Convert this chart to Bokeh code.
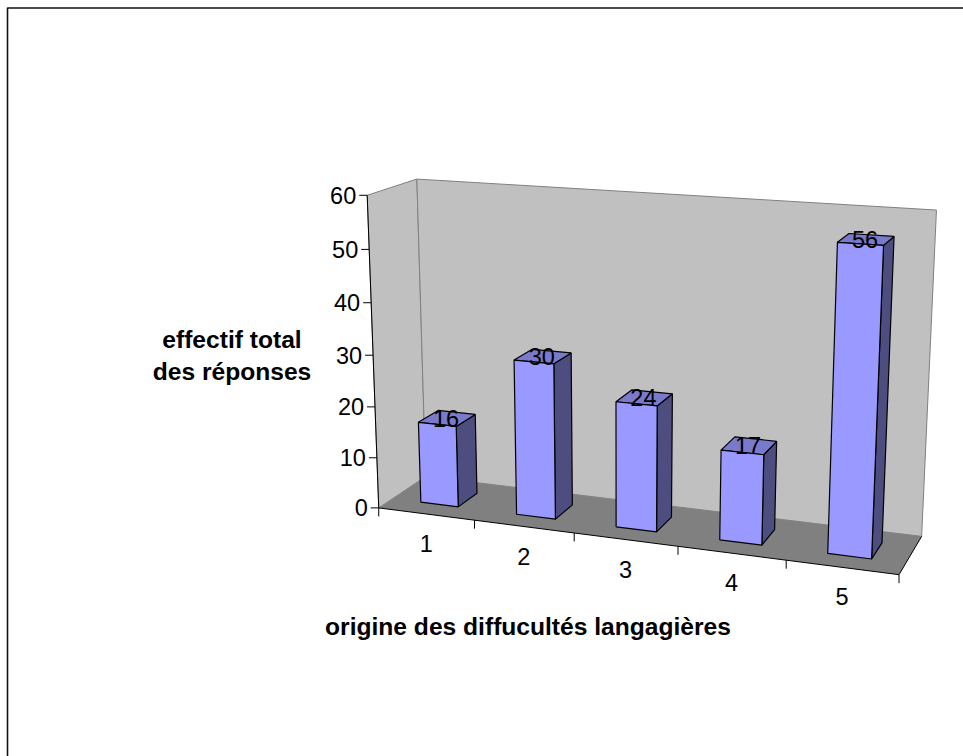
import numpy as np
from bokeh.core.properties import value
from bokeh.embed import file_html
from bokeh.models import Range1d
from bokeh.plotting import figure
from bokeh.resources import INLINE

# Chart content
categories = ["1", "2", "3", "4", "5"]
responses = [16, 30, 24, 17, 56]
value_ticks = [0, 10, 20, 30, 40, 50, 60]
x_title = "origine des diffucultés langagières"
y_title = ["effectif total", "des réponses"]

VALUE_MAX = 60
BAR_SHARE = 0.395
DEPTH_FRONT, DEPTH_BACK = 0.285, 0.71

WALL = "#C0C0C0"
FLOOR = "#808080"
BAR_FRONT = "#9999FF"
BAR_TOP = "#7A7ACC"
BAR_SIDE = "#4D4D80"
FONT = value("Liberation Sans")
LABEL_SIZE = "23.5px"
TITLE_SIZE = "24.6px"

# Camera calibration: unit-box coordinates (along, height, depth) -> page pixels
_box = [
    ((0, 0, 0), (378.5, 507.5)), ((0, 1, 0), (366.7, 194)), ((0, 0, 1), (425, 476)),
    ((0, 1, 1), (416, 179)), ((1, 0, 0), (898.3, 574)), ((1, 0, 1), (921.7, 535)),
    ((1, 1, 1), (936, 210)), ((.2, 0, 0), (474, 519.7)), ((.4, 0, 0), (573.3, 533)),
    ((.6, 0, 0), (676.7, 546)), ((.8, 0, 0), (786, 560)),
    ((0, 1 / 6, 0), (376.7, 457.3)), ((0, 1 / 3, 0), (374.7, 406)), ((0, .5, 0), (372.7, 355)),
    ((0, 2 / 3, 0), (370.8, 302.3)), ((0, 5 / 6, 0), (368.8, 248.7)),
]
_rows = []
for (a, b, c), (sx, sy) in _box:
    _rows.append([a, b, c, 1, 0, 0, 0, 0, -sx * a, -sx * b, -sx * c, -sx])
    _rows.append([0, 0, 0, 0, a, b, c, 1, -sy * a, -sy * b, -sy * c, -sy])
CAMERA = np.linalg.svd(np.array(_rows, float))[2][-1].reshape(3, 4)


def project(along, height, depth):
    h = CAMERA @ np.array([along, height, depth, 1.0])
    return h[0] / h[2], h[1] / h[2]


def quad(*corners):
    pts = [project(*c) for c in corners]
    return [q[0] for q in pts], [q[1] for q in pts]


p = figure(width=963, height=756, output_backend="svg", toolbar_location=None,
           x_range=Range1d(0, 963), y_range=Range1d(756, 0), min_border=0,
           outline_line_color=None, background_fill_color="white", border_fill_color="white")
p.axis.visible = False
p.grid.visible = False

# Chart-area frame: its right and bottom edges lie past the page limit
p.line([7, 7, 963], [756, 7.5, 7.5], line_color="#111111", line_width=1.6)

# Walls and floor
xs, ys = quad((0, 0, 0), (0, 1, 0), (0, 1, 1), (0, 0, 1))
p.patch(xs, ys, fill_color=WALL, line_color=FLOOR, line_width=1)
xs, ys = quad((0, 0, 1), (0, 1, 1), (1, 1, 1), (1, 0, 1))
p.patch(xs, ys, fill_color=WALL, line_color=FLOOR, line_width=1)
xs, ys = quad((0, 0, 0), (0, 0, 1), (1, 0, 1), (1, 0, 0))
p.patch(xs, ys, fill_color=FLOOR, line_color=None)

# Axis lines and tick marks
xs, ys = quad((0, 1, 0), (0, 0, 0), (1, 0, 0), (1, 0, 1))
p.line(xs, ys, line_color="black", line_width=1)
for tick in value_ticks:
    x0, y0 = project(0, tick / VALUE_MAX, 0)
    p.line([x0 - 8, x0], [y0, y0], line_color="black", line_width=1)
    p.text([x0 - 11], [y0], text=[str(tick)], text_font=FONT, text_font_size=LABEL_SIZE,
           text_align="right", text_baseline="middle", text_color="black")
n = len(categories)
for i in range(n + 1):
    x0, y0 = project(i / n, 0, 0)
    p.line([x0, x0], [y0, y0 + 8.5], line_color="black", line_width=1)

# Bars, drawn back to front for each face
for i, v in enumerate(responses):
    pad = (1 - BAR_SHARE) / 2
    u0, u1 = (i + pad) / n, (i + 1 - pad) / n
    h = v / VALUE_MAX
    d0, d1 = DEPTH_FRONT, DEPTH_BACK
    faces = [
        (BAR_SIDE, ((u1, 0, d0), (u1, h, d0), (u1, h, d1), (u1, 0, d1))),
        (BAR_TOP, ((u0, h, d0), (u0, h, d1), (u1, h, d1), (u1, h, d0))),
        (BAR_FRONT, ((u0, 0, d0), (u0, h, d0), (u1, h, d0), (u1, 0, d0))),
    ]
    for colour, corners in faces:
        xs, ys = quad(*corners)
        p.patch(xs, ys, fill_color=colour, line_color="black", line_width=1.2)
    lx, ly = project((u0 + u1) / 2, h, (d0 + d1) / 2)
    p.text([lx - 1], [ly], text=[str(v)], text_font=FONT, text_font_size=LABEL_SIZE,
           text_align="center", text_baseline="middle", text_color="black")

# Category labels under the floor edge
for i, c in enumerate(categories):
    x0, y0 = project((i + 0.5) / n, 0, 0)
    p.text([x0], [y0 + 29.5], text=[c], text_font=FONT, text_font_size=LABEL_SIZE,
           text_align="center", text_baseline="middle", text_color="black")

# Axis titles
p.text([527.5], [626], text=[x_title], text_font=FONT, text_font_size=TITLE_SIZE, text_font_style="bold",
       text_align="center", text_baseline="middle", text_color="black")
for line, y in zip(y_title, [339, 371]):
    p.text([231.5], [y], text=[line], text_font=FONT, text_font_size=TITLE_SIZE, text_font_style="bold",
           text_align="center", text_baseline="middle", text_color="black")

open("out.html", "w").write(file_html(p, INLINE))
